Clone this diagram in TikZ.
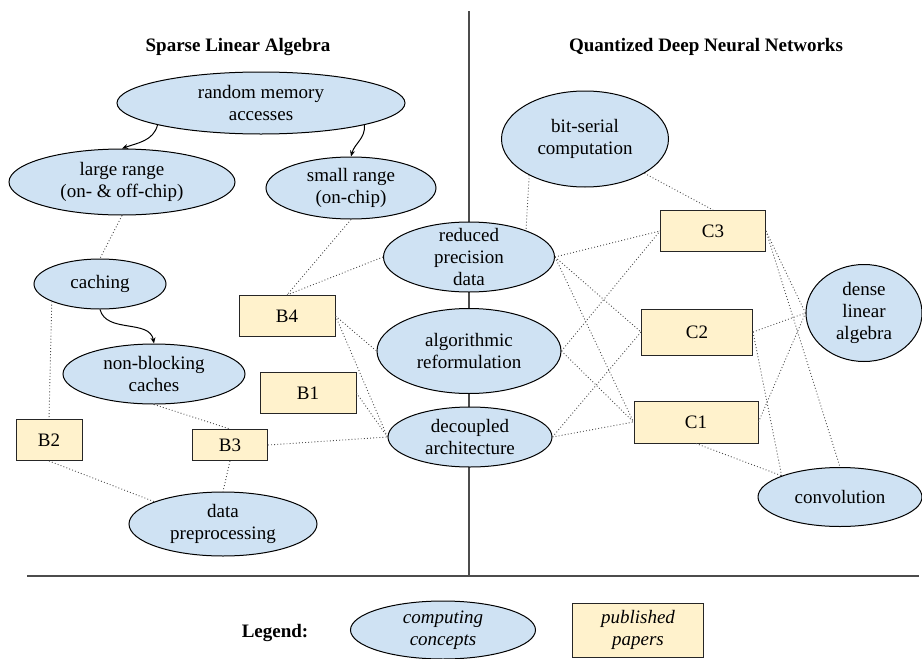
\documentclass[tikz,border=0pt]{standalone}
\usepackage{fontspec}
\setmainfont{Liberation Serif}
\usetikzlibrary{shapes.geometric,arrows.meta}
\definecolor{conceptfill}{HTML}{CFE2F3}
\definecolor{paperfill}{HTML}{FFF2CC}
\begin{document}
\begin{tikzpicture}[x=1pt,y=-1pt,
  every node/.style={font=\rmfamily\fontsize{19}{22}\selectfont},
  concept/.style={ellipse, draw=black, fill=conceptfill, line width=1pt, inner sep=0pt},
  ctext/.style={align=center, inner sep=0pt},
  paper/.style={rectangle, draw=black!85, fill=paperfill, line width=1pt, inner sep=2pt, align=center},
  link/.style={draw=black!70, line width=0.9pt, dash pattern=on 0.9pt off 2.2pt},
  flow/.style={draw=black, line width=1pt, -{Stealth[length=6pt,width=5pt]}},
  divider/.style={draw=black!70, line width=1.1pt},
  heading/.style={font=\rmfamily\fontsize{19}{22}\selectfont\bfseries}
]
\useasboundingbox (0,0) rectangle (922,659);

% frame lines splitting the two topics and the legend
\coordinate (vtop) at (469,11);
\coordinate (vbot) at (469,576);
\coordinate (hleft) at (27,576);
\coordinate (hright) at (919,576);
\draw[divider] (vtop) -- (vbot);
\draw[divider] (hleft) -- (hright);

% headings
\node[heading] (hsla) at (238,47) {Sparse Linear Algebra};
\node[heading] (hqdnn) at (706,47) {Quantized Deep Neural Networks};

% computing concepts (ellipses), text placed at their centres
\node[concept, minimum width=288, minimum height=62] (rma) at (261,103) {};
\node[ctext] (rma-t) at (rma) {random memory\\accesses};
\node[concept, minimum width=226, minimum height=66] (lr) at (122,182) {};
\node[ctext] (lr-t) at (lr) {large range\\(on- \& off-chip)};
\node[concept, minimum width=170, minimum height=62] (sr) at (351,188) {};
\node[ctext] (sr-t) at (sr) {small range\\(on-chip)};
\node[concept, minimum width=132, minimum height=50] (cach) at (100,284) {};
\node[ctext] (cach-t) at (cach) {caching};
\node[concept, minimum width=182, minimum height=60] (nbc) at (154,374) {};
\node[ctext] (nbc-t) at (nbc) {non-blocking\\caches};
\node[concept, minimum width=188, minimum height=64] (dp) at (223,524) {};
\node[ctext] (dp-t) at (dp) {data\\preprocessing};
\node[concept, minimum width=171, minimum height=70] (rpd) at (469,257) {};
\node[ctext] (rpd-t) at (rpd) {reduced\\precision\\data};
\node[concept, minimum width=184, minimum height=85] (ar) at (469,351) {};
\node[ctext] (ar-t) at (ar) {algorithmic\\reformulation};
\node[concept, minimum width=164, minimum height=60] (da) at (470,437) {};
\node[ctext] (da-t) at (da) {decoupled\\architecture};
\node[concept, minimum width=167, minimum height=96] (bsc) at (585,139) {};
\node[ctext] (bsc-t) at (bsc) {bit-serial\\computation};
\node[concept, minimum width=116, minimum height=97] (dla) at (864,313) {};
\node[ctext] (dla-t) at (dla) {dense\\linear\\algebra};
\node[concept, minimum width=164, minimum height=59] (conv) at (840,497) {};
\node[ctext] (conv-t) at (conv) {convolution};

% published papers (boxes)
\node[paper, minimum width=96, minimum height=41] (B4) at (287,316) {B4};
\node[paper, minimum width=96, minimum height=41] (B1) at (308,393) {B1};
\node[paper, minimum width=66, minimum height=41] (B2) at (49,440) {B2};
\node[paper, minimum width=75, minimum height=31] (B3) at (230,445) {B3};
\node[paper, minimum width=105, minimum height=41] (C3) at (713,231) {C3};
\node[paper, minimum width=111, minimum height=46] (C2) at (697,332) {C2};
\node[paper, minimum width=124, minimum height=42] (C1) at (696,422) {C1};

% concept refinements
\draw[flow] (rma.192) to[out=-105, in=20] (lr.north);
\draw[flow] (rma.348) to[out=-85, in=75] (sr.north);
\draw[flow] (cach.south) to[out=-75, in=100] (nbc.north);

% relations between concepts and papers: sparse linear algebra
\draw[link] (lr.south) -- (cach.north);
\draw[link] (cach.200) -- (B2.north);
\draw[link] (sr.south) -- (B4.north);
\draw[link] (rpd.west) -- (B4.north);
\draw[link] (B4.east) -- (ar.west);
\draw[link] (B4.east) -- (da.west);
\draw[link] (B1.east) -- (da.west);
\draw[link] (B3.east) -- (da.west);
\draw[link] (nbc.south) -- (B3.north);
\draw[link] (B2.south) -- (dp.162);
\draw[link] (B3.south) -- (dp.north);

% relations between concepts and papers: quantized networks
\draw[link] (bsc.213) -- (rpd.25);
\draw[link] (bsc.330) -- (C3.north);
\draw[link] (rpd.east) -- (C3.west);
\draw[link] (rpd.east) -- (C2.west);
\draw[link] (rpd.east) -- (C1.west);
\draw[link] (ar.east) -- (C3.west);
\draw[link] (ar.east) -- (C1.west);
\draw[link] (da.east) -- (C2.west);
\draw[link] (da.east) -- (C1.west);
\draw[link] (C3.east) -- (dla.west);
\draw[link] (C3.east) -- (conv.north);
\draw[link] (C2.east) -- (dla.west);
\draw[link] (C2.east) -- (conv.160);
\draw[link] (C1.east) -- (dla.west);
\draw[link] (C1.south) -- (conv.160);

% legend
\node[heading] (leg) at (275,633) {Legend:};
\node[concept, minimum width=185, minimum height=58] (legc) at (443,630) {};
\node[ctext, font=\rmfamily\fontsize{19}{22}\selectfont\itshape] (legc-t) at (legc) {computing\\concepts};
\node[paper, minimum width=131, minimum height=54, font=\rmfamily\fontsize{19}{22}\selectfont\itshape] (legp) at (638,630) {published\\papers};
\end{tikzpicture}
\end{document}
